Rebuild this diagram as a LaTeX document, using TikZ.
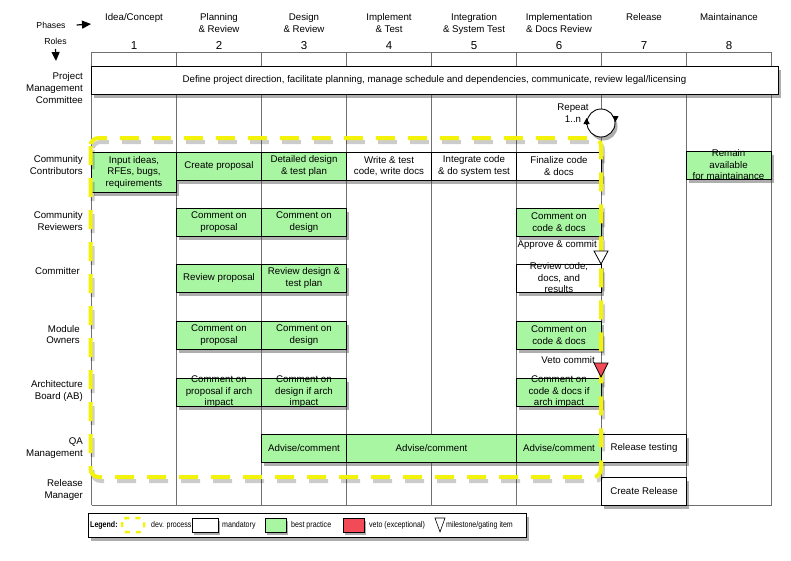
\documentclass[tikz,border=0pt]{standalone}
\usepackage{fontspec}
\setmainfont{Liberation Sans}
\newfontfamily\lgdfont[FakeStretch=0.84]{Liberation Sans}
\usetikzlibrary{arrows.meta,shadows,positioning}
\definecolor{bestGreen}{HTML}{A8F5A2}
\definecolor{vetoRed}{HTML}{F24B57}
\definecolor{devYellow}{HTML}{F2F20A}
\definecolor{gridGray}{HTML}{707070}
\tikzset{
  task/.style={draw=black, line width=0.9pt, minimum width=85pt, minimum height=28pt,
        inner sep=0pt, align=center, font=\fontsize{9.7}{11.5}\selectfont,
        drop shadow={shadow xshift=2.5pt, shadow yshift=-3.5pt, fill=black!70, opacity=0.45}},
  mand/.style={task, fill=white},
  best/.style={task, fill=bestGreen},
  tasktext/.style={inner sep=0pt, align=center, font=\fontsize{9.7}{11.5}\selectfont},
  phase/.style={anchor=north, inner sep=0pt, align=center, font=\fontsize{9.7}{12}\selectfont},
  phasenum/.style={inner sep=0pt, font=\fontsize{11.5}{13}\selectfont},
  role/.style={anchor=east, inner sep=0pt, align=right, font=\fontsize{9.7}{11.8}\selectfont},
  gridline/.style={draw=gridGray, line width=0.7pt},
  devproc/.style={draw=devYellow, line width=4pt, dash pattern=on 19pt off 13pt,
        rounded corners=8pt},
  lgd/.style={anchor=west, inner sep=0pt, font=\lgdfont\fontsize{8.4}{9}\selectfont},
  lgdbox/.style={draw=black, line width=0.8pt, minimum width=21pt, minimum height=14pt,
        inner sep=0pt, drop shadow={shadow xshift=2pt, shadow yshift=-3pt, fill=black!70, opacity=0.45}},
  hint/.style={-{Triangle[length=9pt,width=8pt]}, line width=1.2pt},
  turn/.style={-{Triangle[length=6pt,width=6pt]}, line width=0.9pt}
}
\begin{document}
\begin{tikzpicture}[x=1pt, y=-1pt]
\useasboundingbox (0,0) rectangle (791,560);

% grid
\draw[gridline] (91.5,52) -- (771.5,52);
\draw[gridline] (91.5,505) -- (771.5,505);
\draw[gridline] (91.5,52) -- (91.5,505);
\draw[gridline] (176.5,52) -- (176.5,505);
\draw[gridline] (261.5,52) -- (261.5,505);
\draw[gridline] (346.5,52) -- (346.5,505);
\draw[gridline] (431.5,52) -- (431.5,505);
\draw[gridline] (516.5,52) -- (516.5,505);
\draw[gridline] (601.5,52) -- (601.5,505);
\draw[gridline] (686.5,52) -- (686.5,505);
\draw[gridline] (771.5,52) -- (771.5,505);

% phases and roles
\node[inner sep=0pt, font=\fontsize{8.7}{10}\selectfont] (phases) at (51,25) {Phases};
\node[inner sep=0pt, font=\fontsize{8.7}{10}\selectfont] (roles) at (55.5,41.5) {Roles};
\coordinate (phasetip) at (91,24);
\coordinate (roletip) at (56,61);
\draw[hint] ([xshift=11pt]phases.east) -- (phasetip);
\draw[hint] ([yshift=-4pt]roles.south) -- (roletip);

\node[phase] (ph1) at (134,13.5) {Idea/Concept};
\node[phase] (ph2) at (219,13.5) {Planning\\\& Review};
\node[phase] (ph3) at (304,13.5) {Design\\\& Review};
\node[phase] (ph4) at (389,13.5) {Implement\\\& Test};
\node[phase] (ph5) at (474,13.5) {Integration\\\& System Test};
\node[phase] (ph6) at (559,13.5) {Implementation\\\& Docs Review};
\node[phase] (ph7) at (644,13.5) {Release};
\node[phase] (ph8) at (729,13.5) {Maintainance};

\node[phasenum] (n1) at (134,45.5) {1};
\node[phasenum] (n2) at (219,45.5) {2};
\node[phasenum] (n3) at (304,45.5) {3};
\node[phasenum] (n4) at (389,45.5) {4};
\node[phasenum] (n5) at (474,45.5) {5};
\node[phasenum] (n6) at (559,45.5) {6};
\node[phasenum] (n7) at (644,45.5) {7};
\node[phasenum] (n8) at (729,45.5) {8};

\node[role] (rpmc) at (83,88) {Project\\Management\\Committee};
\node[role] (rcc) at (83,165) {Community\\Contributors};
\node[role] (rcr) at (83,221) {Community\\Reviewers};
\node[role] (rcm) at (80,271) {Committer};
\node[role] (rmo) at (80,334.5) {Module\\Owners};
\node[role] (rab) at (83,391) {Architecture\\Board (AB)};
\node[role] (rqa) at (83,448.5) {QA\\Management};
\node[role] (rrm) at (83,490) {Release\\Manager};

% tasks
\node[mand, minimum width=687pt] (pmc) at (434.5,80) {Define project direction, facilitate planning, manage schedule and dependencies, communicate, review legal/licensing};

\node[best, minimum height=40pt] (cc1) at (134,172) {Input ideas,\\RFEs, bugs,\\requirements};
\node[best] (cc2) at (219,166) {Create proposal};
\node[best] (cc3) at (304,166) {Detailed design\\\& test plan};
\node[mand] (cc4) at (389,166) {Write \& test\\code, write docs};
\node[mand] (cc5) at (474,166) {Integrate code\\\& do system test};
\node[mand] (cc6) at (559,166) {Finalize code\\\& docs};
\node[best] (cc8) at (728.5,165) {};
\node[tasktext] at (cc8) {Remain\\available\\for maintainance};

\node[best] (cr2) at (219,222) {Comment on\\proposal};
\node[best] (cr3) at (304,222) {Comment on\\design};
\node[best] (cr6) at (559,222) {Comment on\\code \& docs};

\node[best] (cm2) at (219,278) {Review proposal};
\node[best] (cm3) at (304,278) {Review design \&\\test plan};
\node[mand] (cm6) at (559,278) {};
\node[tasktext] at (cm6) {Review code,\\docs, and\\results};

\node[best] (mo2) at (219,335) {Comment on\\proposal};
\node[best] (mo3) at (304,335) {Comment on\\design};
\node[best] (mo6) at (559,335) {Comment on\\code \& docs};

\node[best] (ab2) at (219,392) {};
\node[tasktext] at (ab2) {Comment on\\proposal if arch\\impact};
\node[best] (ab3) at (304,392) {};
\node[tasktext] at (ab3) {Comment on\\design if arch\\impact};
\node[best] (ab6) at (559,392) {};
\node[tasktext] at (ab6) {Comment on\\code \& docs if\\arch impact};

\node[best] (qa3) at (304,448) {Advise/comment};
\node[best, minimum width=170pt] (qa45) at (431.5,448) {Advise/comment};
\node[best] (qa6) at (559,448) {Advise/comment};
\node[mand] (qa7) at (644,448) {Release testing};

\node[mand] (rm7) at (644,491) {Create Release};

% dev. process
\draw[devproc, draw=black, opacity=0.2, xshift=2pt, yshift=-4pt] (90.5,138) rectangle (601,477);
\draw[devproc] (90.5,138) rectangle (601,477);

\node[draw=black, circle, fill=white, line width=0.9pt, minimum size=28pt, inner sep=0pt,
      drop shadow={shadow xshift=2.5pt, shadow yshift=-3.5pt, fill=black!70, opacity=0.45}] (rep) at (601,123) {};
\draw[turn] ([yshift=-1pt]rep.west) -- ([yshift=5pt]rep.west);
\draw[turn] ([yshift=7pt]rep.east) -- ([yshift=1pt]rep.east);
\node[tasktext] (replbl) at (573,113) {Repeat\\1..n};

% milestones
\node[tasktext, anchor=east] (apprlbl) at (597,245) {Approve \& commit};
\coordinate (apprtip) at (601,264);
\draw[line width=0.8pt, fill=white] (apprtip) -- ++(-7,-13) -- ++(14,0) -- cycle;
\node[tasktext, anchor=east] (vetolbl) at (595,360) {Veto commit};
\coordinate (vetotip) at (601,377);
\draw[line width=0.8pt, fill=vetoRed] (vetotip) -- ++(-7,-14) -- ++(14,0) -- cycle;

% legend
\node[draw=black, line width=0.9pt, fill=white, minimum width=438pt, minimum height=24pt,
      drop shadow={shadow xshift=2.5pt, shadow yshift=-4pt, fill=black!70, opacity=0.45}] (legend) at (307,525) {};
\node[lgd, font=\lgdfont\fontsize{8.4}{9}\selectfont\bfseries] (lgdtitle) at (90,525) {Legend:};
\draw[draw=devYellow, line width=2.5pt, dash pattern=on 5pt off 6pt, rounded corners=4pt]
      (122,518) rectangle (144,532);
\node[lgd] (lgddev) at (151,525) {dev. process};
\node[lgdbox, fill=white, minimum width=26pt] (lgdmand) at (205,525) {};
\node[lgd] (lgdmandt) at (222,525) {mandatory};
\node[lgdbox, fill=bestGreen] (lgdbest) at (275.5,525) {};
\node[lgd] (lgdbestt) at (291,525) {best practice};
\node[lgdbox, fill=vetoRed] (lgdveto) at (353.5,525) {};
\node[lgd] (lgdvetot) at (369,525) {veto (exceptional)};
\coordinate (lgdtip) at (440,532);
\draw[line width=0.6pt] (lgdtip) -- ++(-5,-14) -- ++(10,0) -- cycle;
\node[lgd] (lgdmile) at (446,525) {milestone/gating item};
\end{tikzpicture}
\end{document}
